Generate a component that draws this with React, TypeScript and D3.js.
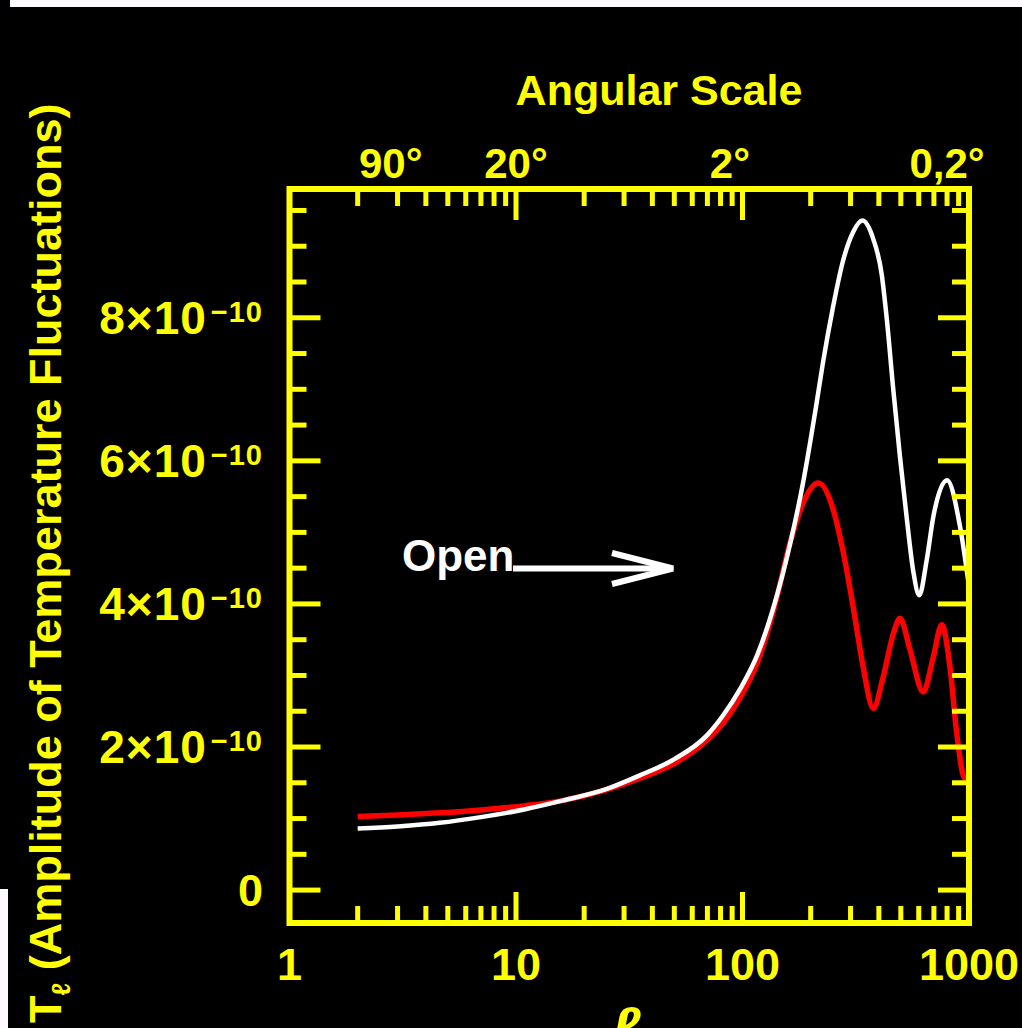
import React from "react";
import * as d3 from "d3";

// open model (white curve): multipole l and amplitude in units of 1e-10
const openEll = [2, 3, 4.6, 7, 11, 16, 25, 35, 50, 70, 82, 98, 116, 137, 162, 185, 211, 226, 251, 277, 308, 338, 378, 412, 433, 463, 496, 531, 568, 603, 651, 696, 800, 913, 1000];
const openAmp = [0.86, 0.89, 0.94, 1.02, 1.13, 1.25, 1.41, 1.6, 1.83, 2.17, 2.44, 2.82, 3.28, 3.95, 4.83, 5.69, 6.75, 7.35, 8.15, 8.78, 9.2, 9.36, 9.1, 8.6, 8.0, 7.0, 6.05, 5.2, 4.45, 4.12, 4.62, 5.22, 5.73, 5.08, 4.24];

// flat model (red curve)
const flatEll = [2, 3, 4.6, 7, 11, 16, 25, 35, 50, 70, 82, 98, 116, 137, 162, 185, 216, 252, 277, 308, 341, 378, 418, 464, 496, 549, 628, 696, 758, 824, 883, 960, 1000];
const flatAmp = [1.03, 1.05, 1.08, 1.12, 1.18, 1.25, 1.4, 1.56, 1.77, 2.1, 2.33, 2.7, 3.17, 3.9, 4.85, 5.41, 5.69, 5.31, 4.76, 3.96, 3.12, 2.54, 2.98, 3.59, 3.8, 3.36, 2.77, 3.26, 3.71, 3.12, 2.19, 1.56, 1.6];

const ellTickLabels = ["1", "10", "100", "1000"];
const angleLabels = ["90°", "20°", "2°", "0,2°"];
const angleLabelEll = [2.8, 10, 88, 800];
const ampTickValues = [0, 2, 4, 6, 8];

const YELLOW = "#ffff00";
const FONT = "'Liberation Sans', Arial, sans-serif";

export default function App() {
  const width = 1022;
  const height = 1028;

  const x = d3.scaleLog().domain([1, 1000]).range([289.5, 969]);
  const y = d3.scaleLinear().domain([-0.46, 9.8]).range([923, 189]);

  const line = d3
    .line<[number, number]>()
    .x((d) => x(d[0]))
    .y((d) => y(d[1]))
    .curve(d3.curveMonotoneX);

  const openPath = line(openEll.map((l, i) => [l, openAmp[i]]) as [number, number][]) || "";
  const flatPath = line(flatEll.map((l, i) => [l, flatAmp[i]]) as [number, number][]) || "";

  const [x0, x1] = x.range();
  const [yb, yt] = y.range();

  const xTicks = x.ticks().filter((t) => t > 1 && t < 1000);
  const isMajor = (t: number) => Math.abs(Math.log10(t) - Math.round(Math.log10(t))) < 1e-6;
  const yTicks = y.ticks(20).filter((t) => t >= 0);
  const isMajorY = (t: number) => Math.abs(t % 2) < 1e-6;

  return (
    <svg
      width={width}
      height={height}
      style={{ position: "absolute", left: 0, top: 0, display: "block" }}
      fontFamily={FONT}
    >
      <rect width={width} height={height} fill="#000" />
      <rect x={10} y={0} width={width - 10} height={7} fill="#fdfbff" />
      <rect x={0} y={889} width={8} height={height - 889} fill="#fdfbff" />

      {/* curves */}
      <path d={flatPath} fill="none" stroke="#ff0000" strokeWidth={5.5} />
      <path d={openPath} fill="none" stroke="#ffffff" strokeWidth={4.5} />

      {/* ticks */}
      <g stroke={YELLOW} strokeWidth={5}>
        {xTicks.map((t) => {
          const len = isMajor(t) ? 31 : 17;
          return (
            <g key={"xt" + t}>
              <line x1={x(t)} x2={x(t)} y1={yb} y2={yb - len} />
              <line x1={x(t)} x2={x(t)} y1={yt} y2={yt + len} />
            </g>
          );
        })}
        {yTicks.map((t) => {
          const len = isMajorY(t) ? 31 : 17;
          return (
            <g key={"yt" + t}>
              <line x1={x0} x2={x0 + len} y1={y(t)} y2={y(t)} />
              <line x1={x1} x2={x1 - len} y1={y(t)} y2={y(t)} />
            </g>
          );
        })}
      </g>

      {/* frame */}
      <rect x={x0} y={yt} width={x1 - x0} height={yb - yt} fill="none" stroke={YELLOW} strokeWidth={6} />

      {/* bottom tick labels */}
      {x.ticks().filter(isMajor).map((t, i) => (
        <text key={"xl" + t} x={x(t)} y={980} textAnchor="middle" fontSize={45} fill={YELLOW} fontWeight="bold">
          {ellTickLabels[i]}
        </text>
      ))}

      {/* top angle labels */}
      {angleLabels.map((s, i) => (
        <text key={"al" + s} x={x(angleLabelEll[i])} y={178} textAnchor="middle" fontSize={42} fill={YELLOW} fontWeight="bold">
          {s}
        </text>
      ))}
      <text x={659} y={105} textAnchor="middle" fontSize={43} fontWeight="bold" fill={YELLOW}>
        Angular Scale
      </text>

      {/* left tick labels */}
      {ampTickValues.map((v) =>
        v === 0 ? (
          <text key="yl0" x={263} y={y(0) + 16} textAnchor="end" fontSize={45} fontWeight="bold" fill={YELLOW}>
            0
          </text>
        ) : (
          <text key={"yl" + v} x={263} y={y(v) + 16} textAnchor="end" fontSize={46} fontWeight="bold" fill={YELLOW} letterSpacing={1}>
            {v}×10
            <tspan fontSize={29} dx={4} dy={-12}>−10</tspan>
          </text>
        )
      )}

      {/* y axis title */}
      <text transform="translate(61,1023) rotate(-90)" fontSize={45} fontWeight="bold" fill={YELLOW}>
        T
        <tspan fontSize={26} dy={9}>ℓ</tspan>
        <tspan dy={-9}> (Amplitude of Temperature Fluctuations)</tspan>
      </text>

      {/* x axis title, cut by the lower edge as in the original */}
      <text x={626} y={1046} textAnchor="middle" fontSize={56} fontStyle="italic" fontWeight="bold" fill={YELLOW}>
        ℓ
      </text>

      {/* annotation */}
      <text x={402} y={571} fontSize={44} fontWeight="bold" fill="#ffffff">
        Open
      </text>
      <line x1={513} x2={668} y1={568.5} y2={568.5} stroke="#ffffff" strokeWidth={6} />
      <polyline points="612,553 673,568.5 612,584" fill="none" stroke="#ffffff" strokeWidth={6} />
    </svg>
  );
}
